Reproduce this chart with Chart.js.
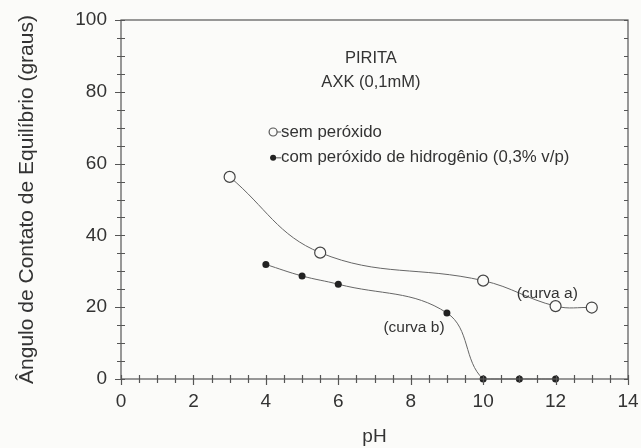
<!DOCTYPE html>
<html>
<head>
<meta charset="utf-8">
<script src="https://cdn.jsdelivr.net/npm/chart.js@4"></script>
<style>
  html, body { margin: 0; padding: 0; background: #fbfbf9; }
  #wrap { width: 641px; height: 448px; }
</style>
</head>
<body>
<div id="wrap"><canvas id="c" width="641" height="448"></canvas></div>
<script>
// ---- data ----
const phSemPeroxido = [3, 5.5, 10, 12, 13];
const anguloSemPeroxido = [56.3, 35.2, 27.4, 20.3, 19.9];
const phComPeroxido = [4, 5, 6, 9, 10, 11, 12];
const anguloComPeroxido = [31.9, 28.7, 26.4, 18.4, 0, 0, 0];
const xTickValues = [0, 2, 4, 6, 8, 10, 12, 14];
const yTickValues = [0, 20, 40, 60, 80, 100];
const titleLines = ['PIRITA', 'AXK (0,1mM)'];
const legendLabels = ['sem peróxido', 'com peróxido de hidrogênio (0,3% v/p)'];
const curveLabels = ['(curva a)', '(curva b)'];

const INK = '#333';
const FONT = '"Liberation Sans", Arial, sans-serif';

function pts(xs, ys) { return xs.map((x, i) => ({ x: x, y: ys[i] })); }

const decor = {
  id: 'decor',
  afterDraw(chart) {
    const ctx = chart.ctx;
    const xs = chart.scales.x, ys = chart.scales.y;
    const L = xs.getPixelForValue(0), R = xs.getPixelForValue(14);
    const T = ys.getPixelForValue(100), B = ys.getPixelForValue(0);
    ctx.save();
    ctx.strokeStyle = '#555';
    ctx.lineWidth = 1.2;
    // frame
    ctx.strokeRect(L, T, R - L, B - T);
    // x ticks
    for (let v = 0; v <= 14.001; v += 0.5) {
      const px = Math.round(xs.getPixelForValue(v)) + 0.5;
      const major = Math.abs(v - Math.round(v / 2) * 2) < 1e-6;
      ctx.beginPath();
      ctx.moveTo(px, B - 4);
      ctx.lineTo(px, B + (major ? 6 : 4));
      ctx.stroke();
    }
    // y ticks (left crossing, right inward)
    for (let v = 0; v <= 100.001; v += 5) {
      const py = Math.round(ys.getPixelForValue(v)) + 0.5;
      const major = v % 20 === 0;
      ctx.beginPath();
      ctx.moveTo(L - (major ? 6 : 4), py);
      ctx.lineTo(L + 4, py);
      ctx.moveTo(R - 4, py);
      ctx.lineTo(R, py);
      ctx.stroke();
    }
    // title text
    ctx.fillStyle = INK;
    ctx.font = '16.5px ' + FONT;
    ctx.textAlign = 'center';
    ctx.textBaseline = 'middle';
    ctx.fillText(titleLines[0], xs.getPixelForValue(6.9), ys.getPixelForValue(89.4));
    ctx.fillText(titleLines[1], xs.getPixelForValue(6.9), ys.getPixelForValue(82.7));
    // legend
    const lx = xs.getPixelForValue(4.2);
    const ly1 = ys.getPixelForValue(68.8), ly2 = ys.getPixelForValue(61.6);
    ctx.strokeStyle = '#555';
    ctx.lineWidth = 1;
    ctx.beginPath();
    ctx.moveTo(lx - 3, ly1); ctx.lineTo(lx + 8, ly1);
    ctx.moveTo(lx - 3, ly2); ctx.lineTo(lx + 8, ly2);
    ctx.stroke();
    ctx.fillStyle = '#fbfbf9';
    ctx.lineWidth = 1.2;
    ctx.beginPath(); ctx.arc(lx, ly1, 4, 0, Math.PI * 2); ctx.fill(); ctx.stroke();
    ctx.fillStyle = '#222';
    ctx.beginPath(); ctx.arc(lx, ly2, 3, 0, Math.PI * 2); ctx.fill();
    ctx.fillStyle = INK;
    ctx.textAlign = 'left';
    ctx.font = '16.8px ' + FONT;
    ctx.fillText(legendLabels[0], lx + 8, ly1);
    ctx.fillText(legendLabels[1], lx + 8, ly2);
    // curve labels
    ctx.textAlign = 'center';
    ctx.font = '15.5px ' + FONT;
    ctx.fillText(curveLabels[0], xs.getPixelForValue(11.77), ys.getPixelForValue(23.7));
    ctx.fillText(curveLabels[1], xs.getPixelForValue(8.09), ys.getPixelForValue(14.2));
    ctx.restore();
  }
};

new Chart(document.getElementById('c'), {
  type: 'scatter',
  data: {
    datasets: [
      {
        label: legendLabels[0],
        data: pts(phSemPeroxido, anguloSemPeroxido),
        showLine: true,
        tension: 0.4,
        borderColor: '#666',
        borderWidth: 1,
        pointRadius: 5.5,
        pointBorderWidth: 1.2,
        pointBorderColor: '#444',
        pointBackgroundColor: '#fbfbf9'
      },
      {
        label: legendLabels[1],
        data: pts(phComPeroxido, anguloComPeroxido),
        showLine: true,
        tension: 0.4,
        borderColor: '#666',
        borderWidth: 1,
        pointRadius: 3.5,
        pointBorderWidth: 0,
        pointBackgroundColor: '#222'
      }
    ]
  },
  options: {
    responsive: false,
    animation: false,
    clip: false,
    layout: { padding: { top: 20, right: 13, left: 0, bottom: 0 } },
    plugins: { legend: { display: false }, tooltip: { enabled: false } },
    scales: {
      x: {
        type: 'linear', min: 0, max: 14,
        afterBuildTicks(s) { s.ticks = xTickValues.map(v => ({ value: v })); },
        afterFit(s) { s.height = 69; s.paddingLeft = 0; s.paddingRight = 0; },
        grid: { display: false, drawTicks: false },
        border: { display: false },
        ticks: { color: INK, font: { family: FONT, size: 19 }, padding: 11, maxRotation: 0 },
        title: { display: true, text: 'pH', color: INK, font: { family: FONT, size: 19 }, padding: { top: 4, bottom: 0 } }
      },
      y: {
        type: 'linear', min: 0, max: 100,
        afterBuildTicks(s) { s.ticks = yTickValues.map(v => ({ value: v })); },
        afterFit(s) { s.width = 121; s.paddingTop = 0; s.paddingBottom = 0; },
        grid: { display: false, drawTicks: false },
        border: { display: false },
        ticks: { color: INK, font: { family: FONT, size: 19 }, padding: 14 },
        title: { display: true, text: 'Ângulo de Contato de Equilíbrio (graus)', color: INK, font: { family: FONT, size: 21 }, padding: { top: 15, bottom: 6 } }
      }
    }
  },
  plugins: [decor]
});
</script>
</body>
</html>
